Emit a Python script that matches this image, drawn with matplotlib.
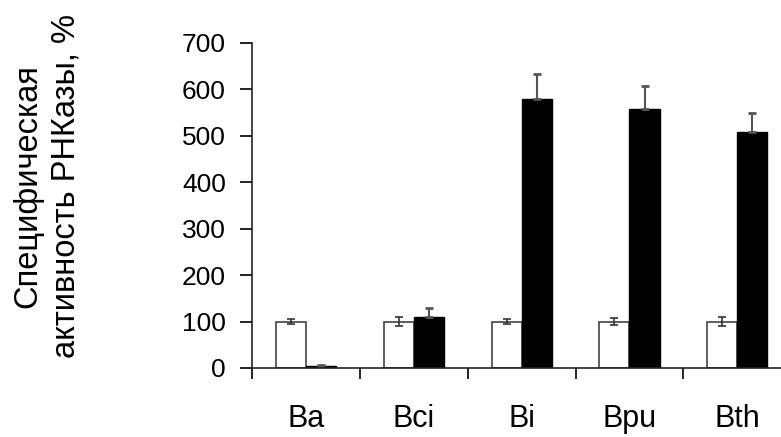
import numpy as np
import matplotlib
matplotlib.use('Agg')
import matplotlib.pyplot as plt

plt.rcParams['font.family'] = ['Liberation Sans', 'DejaVu Sans']

strains = ['Ba', 'Bci', 'Bi', 'Bpu', 'Bth']
control = [100, 100, 100, 100, 100]
control_err = [5, 10, 6, 7, 10]
treated = [4, 110, 580, 558, 509]
treated_err = [2, 20, 52, 48, 40]

fig = plt.figure(figsize=(7.81, 4.37), dpi=100)
ax = fig.add_axes([0.323, 0.158, 0.69, 0.744])

x = np.arange(len(strains))
w = 0.28
ax.bar(x - w/2, control, w, color='white', edgecolor='#444444', linewidth=1.2,
       yerr=control_err, error_kw=dict(ecolor='#333333', elinewidth=1.2, capsize=3, capthick=1.2))
ax.bar(x + w/2, treated, w, color='black', edgecolor='black', linewidth=1,
       yerr=[np.zeros(len(treated)), treated_err],
       error_kw=dict(ecolor='#555555', elinewidth=1.5, capsize=3, capthick=2))

ax.set_ylim(0, 700)
ax.set_xlim(-0.5, 4.5)
ax.set_yticks(range(0, 701, 100))
ax.set_xticks(x)
ax.set_xticklabels(strains)
ax.set_xticks(np.arange(-0.5, 5, 1), minor=True)
ax.tick_params(axis='x', which='major', length=0, pad=26, labelsize=22)
ax.tick_params(axis='x', which='minor', length=8, width=1.2, direction='out')
ax.tick_params(axis='y', length=9, width=1.2, direction='out', pad=10, labelsize=19)

for s in ['top', 'right']:
    ax.spines[s].set_visible(False)
for s in ['left', 'bottom']:
    ax.spines[s].set_linewidth(1.2)
    ax.spines[s].set_color('#222222')

fig.text(47 / 781, 1 - 186 / 437, 'Специфическая\nактивность РНКазы, %', fontsize=23.5,
         rotation=90, ha='center', va='center', multialignment='center', linespacing=1.3)

fig.savefig('out.png', dpi=100)
